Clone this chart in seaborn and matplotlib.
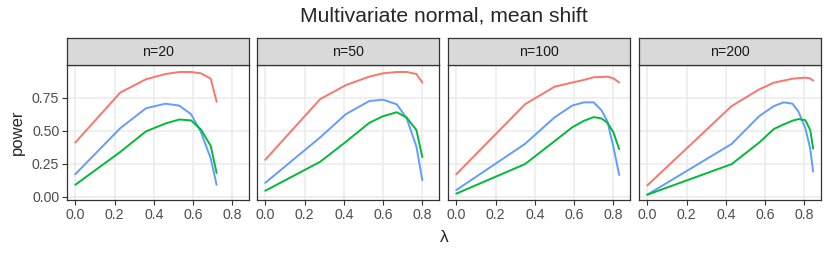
import numpy as np
import pandas as pd
import matplotlib
matplotlib.use("Agg")
import matplotlib.pyplot as plt
import seaborn as sns

# values
sizes = ["n=20", "n=50", "n=100", "n=200"]
methods = ["A", "B", "C"]
colours = {"A": "#F8766D", "B": "#619CFF", "C": "#00BA38"}

lam_20 = [0, 0.23, 0.36, 0.46, 0.53, 0.59, 0.64, 0.69, 0.72]
a_20 = [0.41, 0.79, 0.89, 0.93, 0.945, 0.945, 0.935, 0.895, 0.72]
b_20 = [0.17, 0.52, 0.67, 0.705, 0.69, 0.625, 0.49, 0.29, 0.09]
c_20 = [0.09, 0.34, 0.495, 0.555, 0.585, 0.578, 0.51, 0.385, 0.18]

lam_50 = [0, 0.28, 0.41, 0.53, 0.60, 0.67, 0.72, 0.77, 0.80]
a_50 = [0.28, 0.74, 0.845, 0.91, 0.935, 0.945, 0.945, 0.93, 0.865]
b_50 = [0.105, 0.45, 0.625, 0.725, 0.735, 0.70, 0.595, 0.38, 0.125]
c_50 = [0.045, 0.265, 0.415, 0.56, 0.61, 0.64, 0.60, 0.505, 0.30]

lam_100 = [0, 0.35, 0.50, 0.59, 0.65, 0.70, 0.74, 0.77, 0.80, 0.83]
a_100 = [0.17, 0.70, 0.833, 0.865, 0.885, 0.905, 0.907, 0.91, 0.897, 0.866]
b_100 = [0.05, 0.40, 0.60, 0.69, 0.715, 0.715, 0.655, 0.57, 0.38, 0.165]
c_100 = [0.023, 0.247, 0.42, 0.525, 0.575, 0.603, 0.593, 0.56, 0.49, 0.36]

lam_200 = [0, 0.43, 0.57, 0.645, 0.695, 0.74, 0.77, 0.805, 0.83, 0.845]
a_200 = [0.085, 0.687, 0.813, 0.864, 0.88, 0.894, 0.898, 0.902, 0.896, 0.879]
b_200 = [0.015, 0.40, 0.61, 0.687, 0.715, 0.705, 0.645, 0.52, 0.365, 0.19]
c_200 = [0.015, 0.247, 0.41, 0.513, 0.548, 0.576, 0.588, 0.58, 0.505, 0.365]

panels = {
    "n=20": (lam_20, a_20, b_20, c_20),
    "n=50": (lam_50, a_50, b_50, c_50),
    "n=100": (lam_100, a_100, b_100, c_100),
    "n=200": (lam_200, a_200, b_200, c_200),
}

rows = []
for n, (lam, a, b, c) in panels.items():
    for m, vals in zip(methods, (a, b, c)):
        for x, y in zip(lam, vals):
            rows.append({"n": n, "method": m, "lambda": x, "power": y})
df = pd.DataFrame(rows)

sns.set_style("white")
plt.rcParams["font.family"] = ["Liberation Sans", "DejaVu Sans"]

W, H = 830, 254
fig = plt.figure(figsize=(W / 100, H / 100), dpi=100)

lefts = [67, 257, 448, 639]
pw = 182
top_px, bot_px, strip_px = 65, 200, 27
border = "#333333"

for i, n in enumerate(sizes):
    ax = fig.add_axes([lefts[i] / W, (H - bot_px) / H, pw / W, (bot_px - top_px) / H])
    sns.lineplot(data=df[df["n"] == n], x="lambda", y="power", hue="method",
                 palette=colours, hue_order=methods, legend=False,
                 linewidth=1.4, ax=ax, estimator=None, sort=False)
    ax.set_xlim(-0.042, 0.885)
    ax.set_ylim(-0.025, 0.998)
    ax.set_xticks([0, 0.2, 0.4, 0.6, 0.8])
    ax.set_xticklabels(["0.0", "0.2", "0.4", "0.6", "0.8"])
    ax.set_yticks([0, 0.25, 0.5, 0.75])
    if i == 0:
        ax.set_yticklabels(["0.00", "0.25", "0.50", "0.75"])
    else:
        ax.set_yticklabels([])
    ax.grid(True, color="#EBEBEB", linewidth=1.1)
    ax.set_axisbelow(True)
    ax.tick_params(axis="both", length=3.5, width=0.8, color=border,
                   labelcolor="#4D4D4D", labelsize=10.2, pad=2,
                   left=True, bottom=True)
    if i > 0:
        ax.tick_params(axis="y", left=False)
    for s in ax.spines.values():
        s.set_color(border)
        s.set_linewidth(0.9)
    ax.set_xlabel("")
    ax.set_ylabel("")

    # strip on top of each panel
    sax = fig.add_axes([lefts[i] / W, (H - top_px) / H, pw / W, strip_px / H])
    sax.set_facecolor("#D9D9D9")
    sax.set_xticks([])
    sax.set_yticks([])
    for s in sax.spines.values():
        s.set_color(border)
        s.set_linewidth(0.9)
    sax.text(0.5, 0.5, n, ha="center", va="center", fontsize=10.2,
             color="#1A1A1A", transform=sax.transAxes)

fig.text(444 / W, 1 - 16 / H, "Multivariate normal, mean shift",
         ha="center", va="center", fontsize=15.2)
fig.text(444 / W, 1 - 237 / H, "λ", ha="center", va="center", fontsize=12.5)
fig.text(17 / W, 1 - 132 / H, "power", ha="center", va="center",
         rotation=90, fontsize=12)

fig.savefig("out.png", dpi=100)
